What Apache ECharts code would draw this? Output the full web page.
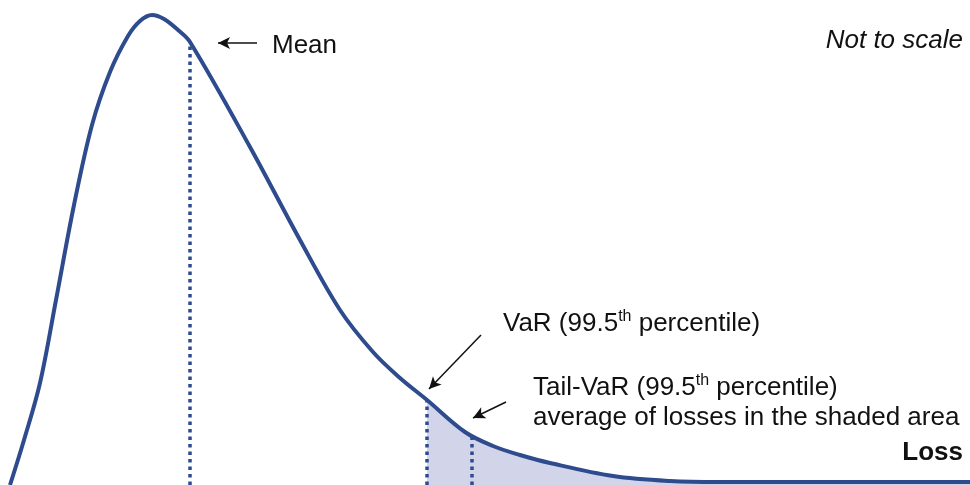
<!DOCTYPE html>
<html><head><meta charset="utf-8">
<script src="https://cdn.jsdelivr.net/npm/echarts@6/dist/echarts.min.js"></script>
<style>html,body{margin:0;padding:0;background:#fff}#c{width:970px;height:485px}</style>
</head><body><div id="c"></div>
<script>
// Loss values (horizontal) and density values (vertical)
const lossX   = [10,24,40,56,74,92,110,128,140,152,164,178,190,250,300,340,373,400,427,465,493,520,550,613,670,720,970];
const density = [0,45,102,185,280,360,413,449,464,470,466,455,443,338,245,175,133,107,85,53,39,30,22,9,4,3,3];
const meanLoss = 190, meanDensity = 443;
const varLoss = 427, varDensity = 85;
const tvarLoss = 472, tvarDensity = 49;

const curve = lossX.map((x,i)=>[x,density[i]]);
const tail = curve.filter(p=>p[0]>=varLoss);

const blue = '#2E4B8E';
const font = '"Liberation Sans", Arial, sans-serif';
const chart = echarts.init(document.getElementById('c'));
const arrowStyle = {color:'#111', width:1.5, type:'solid'};
const rich = {n:{font:'26px '+font,fill:'#111',lineHeight:30},s:{font:'16px '+font,fill:'#111',verticalAlign:'top',lineHeight:30}};
chart.setOption({
  animation:false,
  grid:{left:0,right:0,top:0,bottom:0},
  xAxis:{type:'value',min:0,max:970,show:false},
  yAxis:{type:'value',min:0,max:485,show:false},
  series:[
    {type:'line', data:tail, smooth:0.35, symbol:'none', lineStyle:{width:0}, areaStyle:{color:'#D2D5EA', opacity:1}, z:1, silent:true},
    {type:'line', data:[[meanLoss,0],[meanLoss,meanDensity]], symbol:'none', lineStyle:{color:blue,width:3.5,type:[3.5,4]}, z:2, silent:true},
    {type:'line', data:[[varLoss,0],[varLoss,varDensity]], symbol:'none', lineStyle:{color:blue,width:3.5,type:[3.5,4]}, z:2, silent:true},
    {type:'line', data:[[tvarLoss,0],[tvarLoss,tvarDensity]], symbol:'none', lineStyle:{color:blue,width:3.5,type:[3.5,4]}, z:2, silent:true},
    {type:'line', data:curve, smooth:0.35, symbol:'none', lineStyle:{color:blue,width:4}, z:3, silent:true, clip:false,
     markLine:{silent:true, symbol:['none','arrow'], symbolSize:[9,12], label:{show:false}, lineStyle:arrowStyle, emphasis:{disabled:true},
       data:[
         [{coord:[257,442]},{coord:[218,442]}],
         [{coord:[481,150]},{coord:[429,96]}],
         [{coord:[506,83]},{coord:[473,67]}]
       ]}
    }
  ],
  graphic:[
    {type:'text', left:272, top:33, style:{text:'Mean', font:'26px '+font, fill:'#111'}},
    {type:'text', right:7, top:28, style:{text:'Not to scale', font:'italic 26px '+font, fill:'#111'}},
    {type:'text', left:503, top:309, style:{text:'{n|VaR (99.5}{s|th}{n| percentile)}', rich:rich}},
    {type:'text', left:533, top:373, style:{text:'{n|Tail-VaR (99.5}{s|th}{n| percentile)}\n{n|average of losses in the shaded area}', rich:rich}},
    {type:'text', right:7, top:440, style:{text:'Loss', font:'bold 26px '+font, fill:'#111'}}
  ]
});
</script></body></html>
